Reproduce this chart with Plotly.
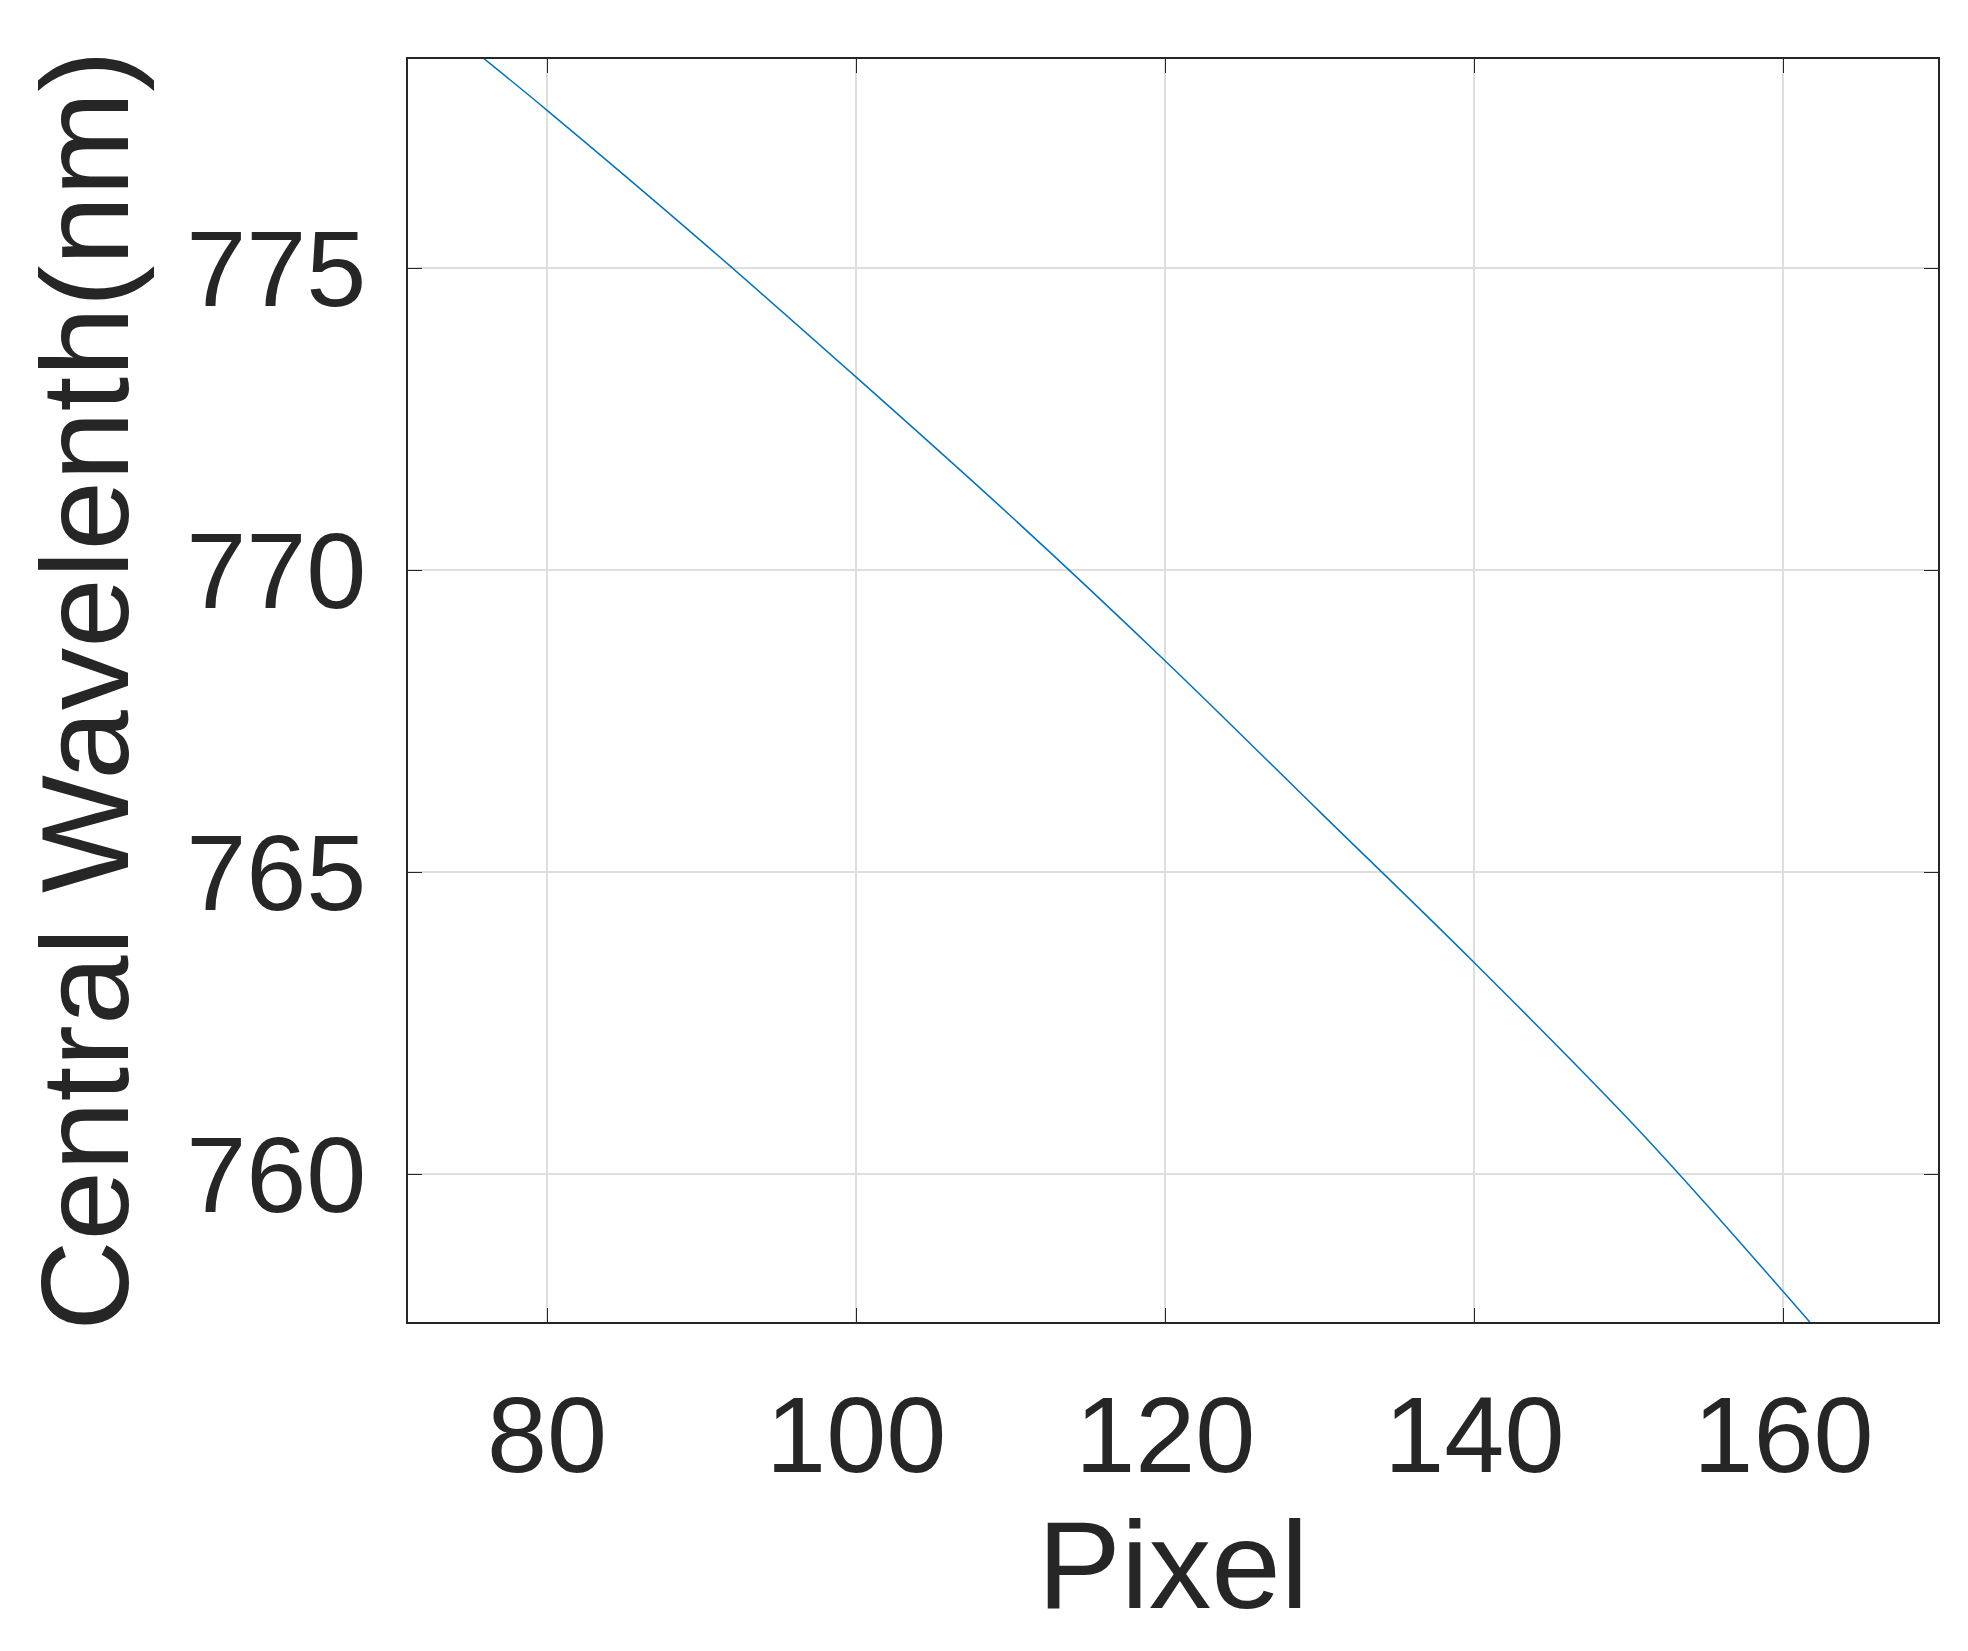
import plotly.graph_objects as go

pixel = [75.8, 80, 90, 100, 110, 120, 130, 140, 150, 155, 161.7]
wavelength = [778.5, 777.62, 775.45, 773.2, 770.9, 768.5, 766.0, 763.5, 760.9, 759.5, 757.55]

fig = go.Figure(go.Scatter(x=pixel, y=wavelength, mode="lines", line_shape="spline",
                           line=dict(color="#0072BD", width=1.5), showlegend=False))
ax = dict(showline=True, linecolor="#262626", linewidth=2, mirror="ticks", ticks="inside",
          ticklen=14, tickcolor="#262626", showgrid=True, gridcolor="#dedede", gridwidth=1.5,
          zeroline=False, tickfont=dict(size=108, color="#262626"), ticklabelstandoff=18)
fig.update_xaxes(range=[71, 170], tickvals=[80, 100, 120, 140, 160],
                 title=dict(text="Pixel", font=dict(size=125, color="#262626"), standoff=10), **ax)
fig.update_yaxes(range=[757.55, 778.47], tickvals=[760, 765, 770, 775],
                 title=dict(text="Central Wavelenth(nm)", font=dict(size=125, color="#262626"), standoff=15), **ax)
fig.update_layout(width=1968, height=1651, plot_bgcolor="white", paper_bgcolor="white",
                  font=dict(family="Liberation Sans, Arial"),
                  margin=dict(l=400, r=38, t=51, b=337))
fig.write_html("out.html")
